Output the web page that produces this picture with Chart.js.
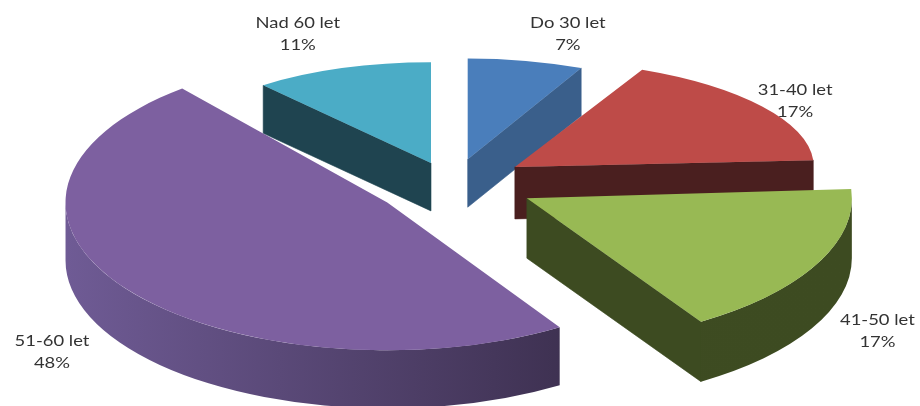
<!DOCTYPE html>
<html><head><meta charset="utf-8">
<script src="https://cdn.jsdelivr.net/npm/chart.js@4.4.0/dist/chart.umd.min.js"></script>
<style>html,body{margin:0;padding:0;background:#fff}#wrap{width:920px;height:406px;position:relative}</style>
</head><body>
<div id="wrap"><canvas id="c" width="920" height="406"></canvas></div>
<script>
// ---- data ----
const categories = ['Do 30 let', '31-40 let', '41-50 let', '51-60 let', 'Nad 60 let'];
const shares = [7, 17, 17, 48, 11];
const percentLabels = ['7%', '17%', '17%', '48%', '11%'];

// ---- styles ----
const topColors = ['#4a7ebb', '#be4b48', '#98b954', '#7d60a0', '#4bacc6'];
const sideLight = ['#3a5f8b', '#4a1f1f', '#3e4c22', '#6f5b95', '#1f4450'];
const sideDark  = ['#3a5f8b', '#4a1f1f', '#3d4b21', '#30253e', '#1f4450'];
const explode   = [72, 76, 84, 80, 62];          // px, along mid-angle
const scaleX    = [0.82, 0.92, 1.00, 0.99, 0.81]; // perspective approximation
const scaleY    = [0.31, 0.33, 0.45, 0.455, 0.31];
const depth     = [48, 52, 60, 58, 48];
const labelNudge = [[42, -27], [33, -6], [61, 66], [-75, 63], [-44, -34]];
const CX = 452, CY = 181, BASE_R = 325;

const pie3d = {
  id: 'pie3d',
  beforeDatasetsDraw(chart) {
    const ctx = chart.ctx;
    const arcs = chart.getDatasetMeta(0).data;
    const mid = a => (a.startAngle + a.endAngle) / 2;
    const order = arcs.map((a, i) => i).sort((i, j) => Math.sin(mid(arcs[i])) - Math.sin(mid(arcs[j])));
    chart.$geom = [];
    for (const i of order) {
      const a = arcs[i];
      const m = mid(a);
      const sx = scaleX[i], sy = scaleY[i], D = depth[i];
      const ox = CX + Math.cos(m) * explode[i];
      const oy = CY + Math.sin(m) * explode[i] * sy;
      const rx = a.outerRadius * sx, ry = a.outerRadius * sy;
      const P = t => [ox + Math.cos(t) * rx, oy + Math.sin(t) * ry];
      chart.$geom[i] = {ox, oy, rx, ry, m, D};
      const s = a.startAngle, e = a.endAngle;
      // radial walls
      const wall = (t) => {
        const p = P(t);
        ctx.beginPath();
        ctx.moveTo(ox, oy); ctx.lineTo(p[0], p[1]);
        ctx.lineTo(p[0], p[1] + D); ctx.lineTo(ox, oy + D); ctx.closePath();
        ctx.fillStyle = sideDark[i]; ctx.fill();
        ctx.strokeStyle = sideDark[i]; ctx.lineWidth = 0.6; ctx.stroke();
      };
      if (Math.cos(s) < -0.001) wall(s);
      if (Math.cos(e) > 0.001) wall(e);
      // curved outer wall (front facing part)
      const a0 = Math.max(s, 0), a1 = Math.min(e, Math.PI);
      if (a1 > a0) {
        const g = ctx.createLinearGradient(ox - rx, 0, ox + rx, 0);
        g.addColorStop(0, sideLight[i]); g.addColorStop(1, sideDark[i]);
        ctx.beginPath();
        ctx.ellipse(ox, oy, rx, ry, 0, a0, a1, false);
        ctx.ellipse(ox, oy + D, rx, ry, 0, a1, a0, true);
        ctx.closePath();
        ctx.fillStyle = g; ctx.fill();
      }
      // top face, drawn by the arc element
      ctx.save();
      ctx.translate(ox, oy);
      ctx.scale(sx, sy);
      ctx.translate(-a.x, -a.y);
      a.draw(ctx);
      ctx.restore();
    }
    return false;
  },
  afterDraw(chart) {
    const ctx = chart.ctx;
    const g = chart.$geom || [];
    ctx.save();
    ctx.fillStyle = '#333333';
    ctx.font = '16px Lato';
    ctx.textAlign = 'center';
    ctx.textBaseline = 'middle';
    g.forEach((q, i) => {
      const x = q.ox + Math.cos(q.m) * q.rx + labelNudge[i][0];
      const y = q.oy + Math.sin(q.m) * q.ry + labelNudge[i][1];
      [categories[i], percentLabels[i]].forEach((t, k) => {
        ctx.save();
        ctx.translate(x, y - 11 + k * 22);
        ctx.scale(1.15, 1);
        ctx.fillText(t, 0, 0);
        ctx.restore();
      });
    });
    ctx.restore();
  }
};

new Chart(document.getElementById('c'), {
  type: 'pie',
  data: {
    labels: categories,
    datasets: [{
      data: shares,
      backgroundColor: topColors,
      borderWidth: 0,
      radius: BASE_R
    }]
  },
  options: {
    responsive: false,
    animation: false,
    events: [],
    plugins: { legend: { display: false }, tooltip: { enabled: false } }
  },
  plugins: [pie3d]
});
</script>
</body></html>
